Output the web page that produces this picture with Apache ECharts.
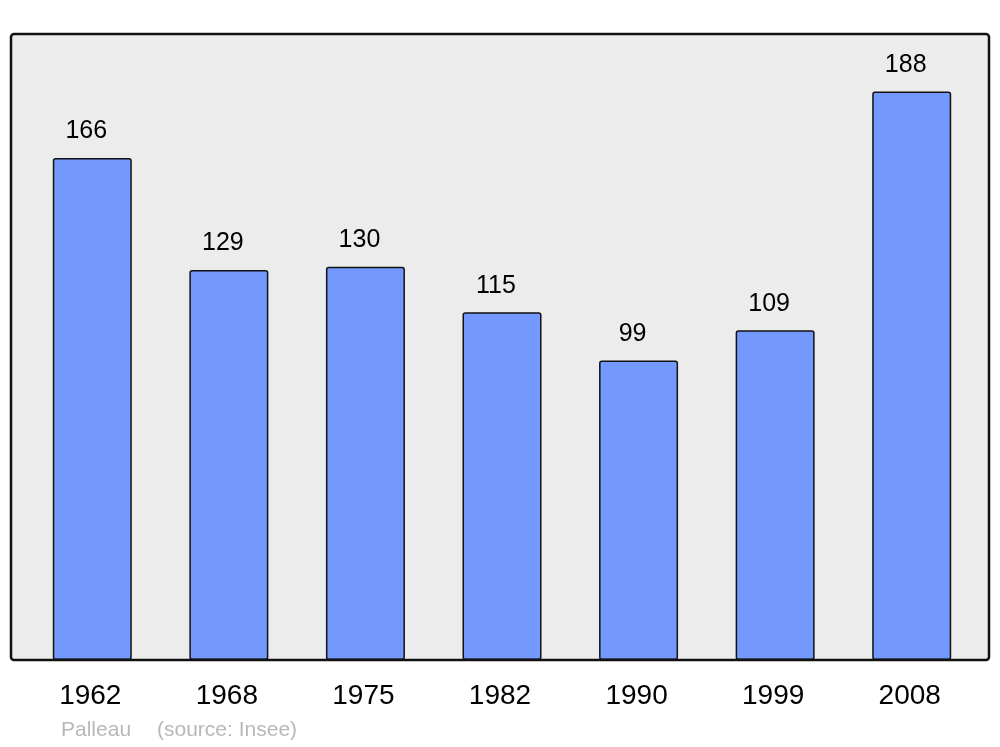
<!DOCTYPE html>
<html>
<head>
<meta charset="utf-8">
<script src="https://cdn.jsdelivr.net/npm/echarts@6/dist/echarts.min.js"></script>
<style>
  html, body { margin: 0; padding: 0; background: #fff; }
  #chart { width: 1000px; height: 747px; }
</style>
</head>
<body>
<div id="chart"></div>
<script>
var years = ['1962', '1968', '1975', '1982', '1990', '1999', '2008']
var population = [166, 129, 130, 115, 99, 109, 188]

var chart = echarts.init(document.getElementById('chart'))
var option = {
  animation: false,
  textStyle: { fontFamily: 'Liberation Sans, Arial, sans-serif' },
  graphic: [
    {
      type: 'rect',
      z: -1,
      shape: { x: 11, y: 34, width: 978, height: 626, r: 3 },
      style: { fill: '#ececec', stroke: 'none' }
    },
    {
      type: 'rect',
      z: 100,
      silent: true,
      shape: { x: 11, y: 34, width: 978, height: 626, r: 3 },
      style: { fill: 'none', stroke: '#111', lineWidth: 2.5 }
    },
    {
      type: 'text',
      left: 61,
      top: 720,
      style: { text: 'Palleau', fill: '#b8b8b8', font: '21px "Liberation Sans", Arial, sans-serif' }
    },
    {
      type: 'text',
      left: 157,
      top: 720,
      style: { text: '(source: Insee)', fill: '#b8b8b8', font: '21px "Liberation Sans", Arial, sans-serif' }
    }
  ],
  grid: {
    left: 24,
    right: 20,
    top: 34,
    bottom: 87
  },
  xAxis: {
    type: 'category',
    data: years,
    axisLine: { show: false },
    axisTick: { show: false },
    axisLabel: {
      color: '#000',
      fontSize: 28,
      margin: 22,
      padding: [0, 4, 0, 0]
    }
  },
  yAxis: {
    type: 'value',
    min: 0,
    max: 207,
    show: false,
    splitLine: { show: false }
  },
  series: [
    {
      type: 'bar',
      data: population,
      barWidth: 79,
      itemStyle: {
        color: '#7399ff',
        borderColor: '#111',
        borderWidth: 1.5,
        borderRadius: 2
      },
      label: {
        show: true,
        position: 'top',
        distance: 14,
        offset: [-6, 0],
        color: '#000',
        fontSize: 25
      }
    }
  ]
}
chart.setOption(option)
</script>
</body>
</html>
